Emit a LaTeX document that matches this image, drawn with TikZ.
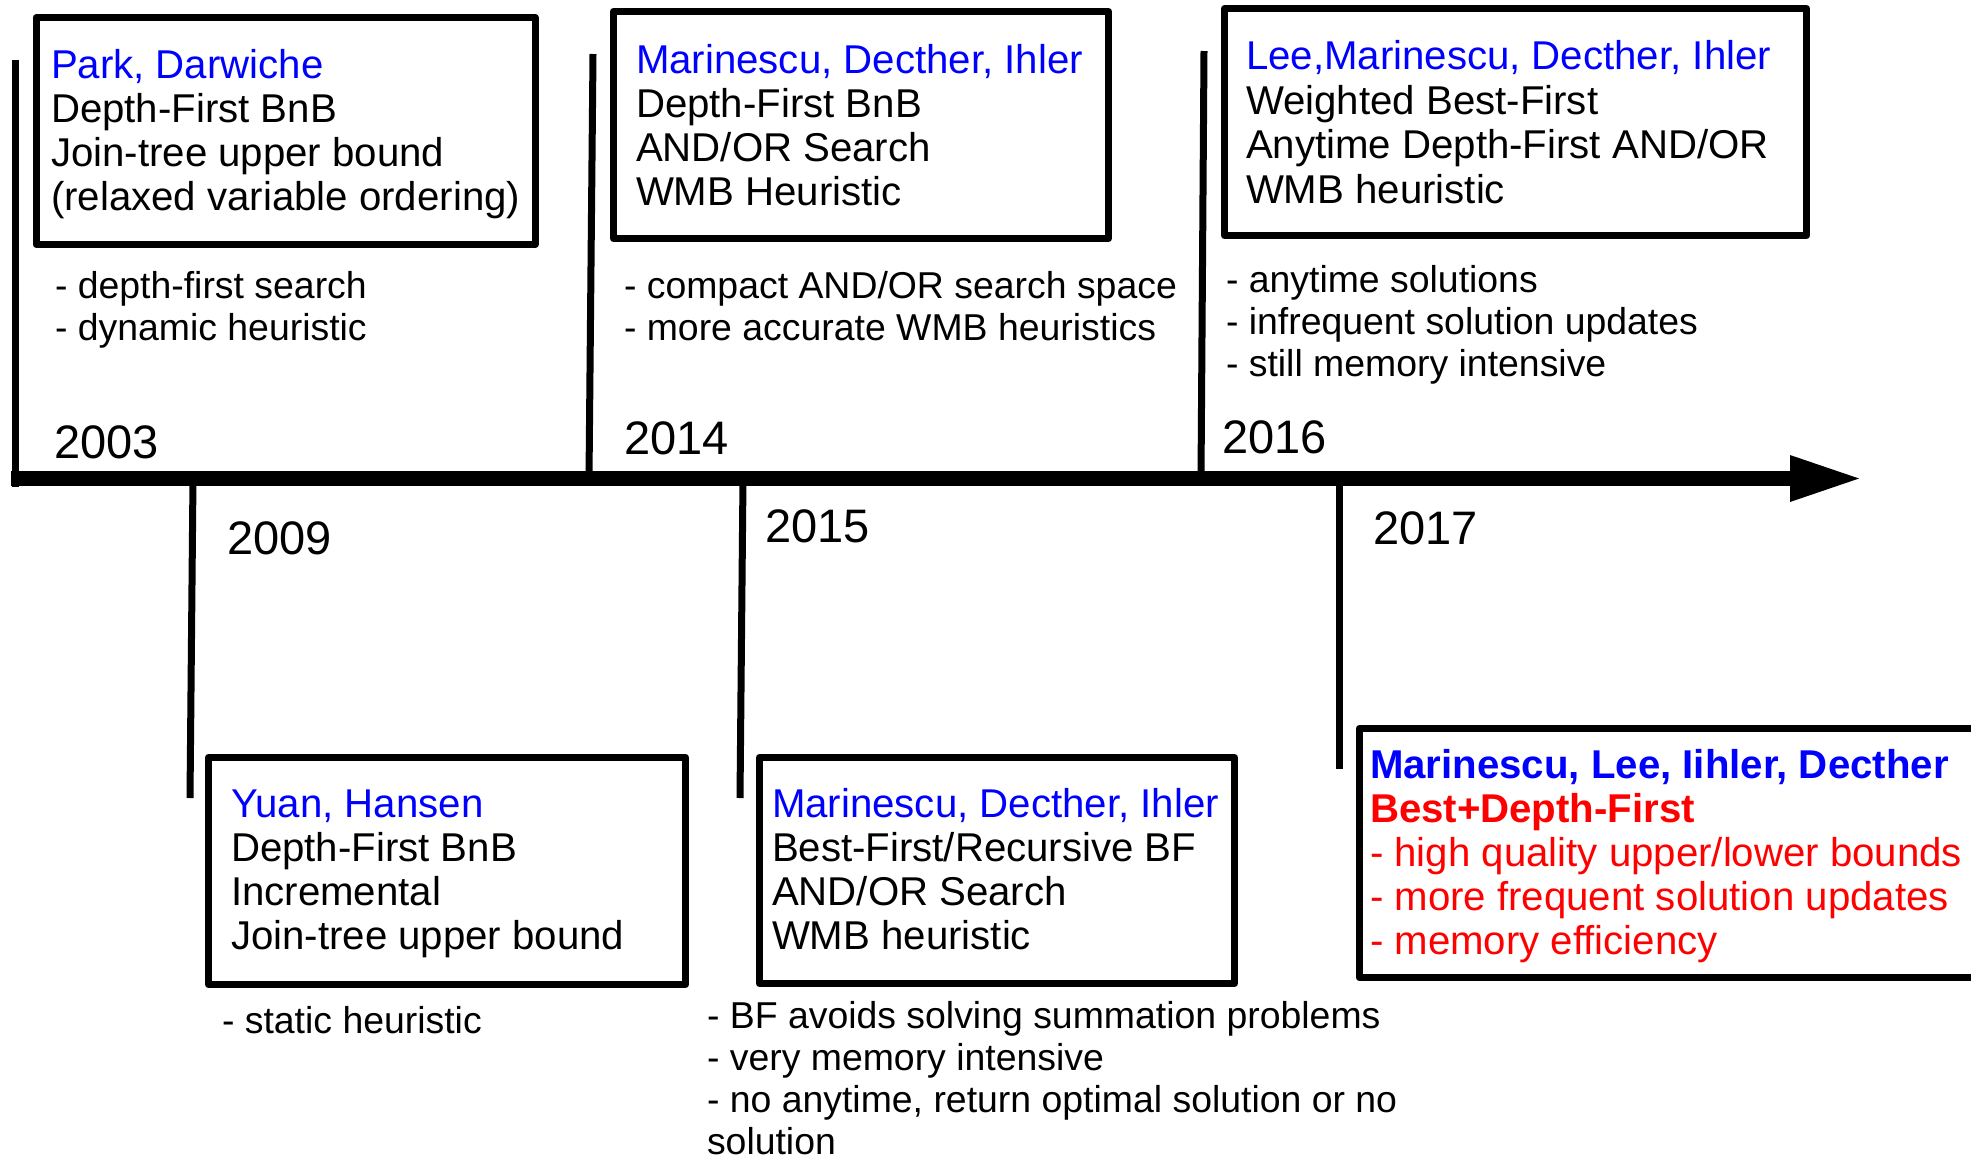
\documentclass[tikz,border=0pt]{standalone}
\usepackage{fontspec}
\setmainfont{Liberation Sans}
\definecolor{nblue}{RGB}{0,0,255}
\definecolor{nred}{RGB}{255,0,0}
\begin{document}
\begin{tikzpicture}[x=1pt,y=-1pt,
  boxframe/.style={draw=black, line width=7pt, line join=round, inner sep=0pt, outer sep=0pt},
  tickline/.style={line width=7pt},
  boxtext/.style={anchor=base west, inner sep=0pt, outer sep=0pt, font=\fontsize{40.2}{44}\selectfont},
  notetext/.style={anchor=base west, inner sep=0pt, outer sep=0pt, font=\fontsize{37.4}{42}\selectfont},
  yeartext/.style={anchor=base west, inner sep=0pt, outer sep=0pt, font=\fontsize{47}{52}\selectfont},
]
\useasboundingbox (0,0) rectangle (1971,1157);
\clip (0,0) rectangle (1971,1157);

% time axis
\coordinate (axL) at (11,478.5);
\coordinate (axE) at (1792,478.5);
\coordinate (axT) at (1859,478.5);
\draw[line width=15pt] (axL) -- (axE);
\fill (axT) -- ++(-69,-23.5) -- ++(0,47) -- cycle;

% tick lines
\coordinate (t03a) at (15,60);    \coordinate (t03b) at (15,487);
\coordinate (t14a) at (593,54);   \coordinate (t14b) at (589,478);
\coordinate (t16a) at (1204,51);  \coordinate (t16b) at (1201,478);
\coordinate (t09a) at (193,478);  \coordinate (t09b) at (190,798);
\coordinate (t15a) at (743,478);  \coordinate (t15b) at (740,798);
\coordinate (t17a) at (1339.5,478); \coordinate (t17b) at (1339.5,769);
\draw[tickline] (t03a) -- (t03b);
\draw[tickline] (t14a) -- (t14b);
\draw[tickline] (t16a) -- (t16b);
\draw[tickline] (t09a) -- (t09b);
\draw[tickline] (t15a) -- (t15b);
\draw[tickline] (t17a) -- (t17b);

% boxes
\node[boxframe, minimum width=499pt, minimum height=227pt] (bxA) at (285.5,131) {};
\node[boxframe, minimum width=495pt, minimum height=227pt] (bxB) at (861,125) {};
\node[boxframe, minimum width=582pt, minimum height=227pt] (bxC) at (1515.5,122) {};
\node[boxframe, minimum width=477pt, minimum height=227pt] (bxD) at (447,871) {};
\node[boxframe, minimum width=475pt, minimum height=226pt] (bxE) at (997,870.5) {};
\node[boxframe, minimum width=641pt, minimum height=249pt] (bxF) at (1679.5,853) {};

% box texts
\node[boxtext] (txA) at (51,78) {\begin{tabular}[t]{@{}l@{}}
\color{nblue}Park, Darwiche\\
Depth-First BnB\\
Join-tree upper bound\\
(relaxed variable ordering)\end{tabular}};
\node[boxtext] (txB) at (636,73) {\begin{tabular}[t]{@{}l@{}}
\color{nblue}Marinescu, Decther, Ihler\\
Depth-First BnB\\
AND/OR Search\\
WMB Heuristic\end{tabular}};
\node[boxtext, font=\fontsize{40.2}{44.7}\selectfont] (txC) at (1246,69.5) {\begin{tabular}[t]{@{}l@{}}
\color{nblue}Lee,Marinescu, Decther, Ihler\\
Weighted Best-First\\
Anytime Depth-First AND/OR\\
WMB heuristic\end{tabular}};
\node[boxtext] (txD) at (231,817) {\begin{tabular}[t]{@{}l@{}}
\color{nblue}Yuan, Hansen\\
Depth-First BnB\\
Incremental\\
Join-tree upper bound\end{tabular}};
\node[boxtext] (txE) at (772,817) {\begin{tabular}[t]{@{}l@{}}
\color{nblue}Marinescu, Decther, Ihler\\
Best-First/Recursive BF\\
AND/OR Search\\
WMB heuristic\end{tabular}};
\node[boxtext] (txF) at (1370,778) {\begin{tabular}[t]{@{}l@{}}
\bfseries\color{nblue}Marinescu, Lee, Iihler, Decther\\
\bfseries\color{nred}Best+Depth-First\\
\color{nred}- high quality upper/lower bounds\\
\color{nred}- more frequent solution updates\\
\color{nred}- memory efficiency\end{tabular}};

% notes
\node[notetext] (ntA) at (55,298) {\begin{tabular}[t]{@{}l@{}}
- depth-first search\\
- dynamic heuristic\end{tabular}};
\node[notetext] (ntB) at (624,298) {\begin{tabular}[t]{@{}l@{}}
- compact AND/OR search space\\
- more accurate WMB heuristics\end{tabular}};
\node[notetext] (ntC) at (1226,292) {\begin{tabular}[t]{@{}l@{}}
- anytime solutions\\
- infrequent solution updates\\
- still memory intensive\end{tabular}};
\node[notetext] (ntD) at (222,1033) {\begin{tabular}[t]{@{}l@{}}
- static heuristic\end{tabular}};
\node[notetext] (ntE) at (707,1028) {\begin{tabular}[t]{@{}l@{}}
- BF avoids solving summation problems\\
- very memory intensive\\
- no anytime, return optimal solution or no\\
solution\end{tabular}};

% years
\node[yeartext] (y03) at (54,458) {2003};
\node[yeartext] (y14) at (624,454) {2014};
\node[yeartext] (y16) at (1222,453) {2016};
\node[yeartext] (y09) at (227,554) {2009};
\node[yeartext] (y15) at (765,542) {2015};
\node[yeartext] (y17) at (1373,544) {2017};
\end{tikzpicture}
\end{document}
